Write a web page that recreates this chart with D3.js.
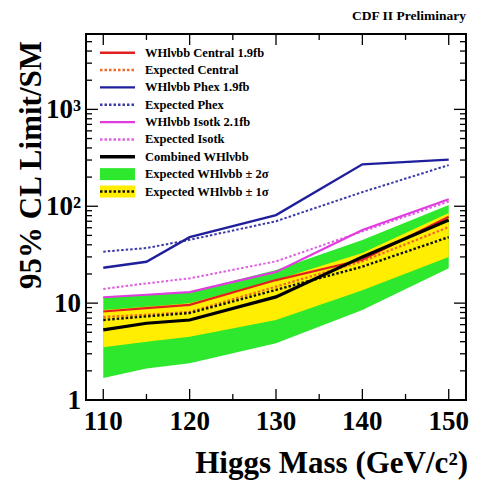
<!DOCTYPE html>
<html>
<head>
<meta charset="utf-8">
<script src="https://cdn.jsdelivr.net/npm/d3@7"></script>
<style>
  body { margin: 0; background: #fff; }
  svg { font-family: "Liberation Serif", "DejaVu Serif", serif; font-weight: bold; }
</style>
</head>
<body>
<div id="chart"></div>
<script>
// Higgs mass points (GeV/c^2)
var masses = [110, 115, 120, 130, 140, 150];

// limits / SM
var centralObs = [8.2, 8.9, 9.6, 17.3, 28, 78];
var centralExp = [7.2, 7.6, 8.1, 14.8, 27, 61];
var phexObs = [23.2, 26.7, 48, 81, 271, 303];
var phexExp = [34, 37, 45, 70, 140, 266];
var isotkObs = [11.5, 12.2, 13, 21, 57, 118];
var isotkExp = [14, 16, 18, 27, 55, 112];
var combObs = [5.3, 6.2, 6.7, 11.6, 30, 72];
var combExp = [6.7, 7.3, 7.9, 13.7, 23.8, 48];
var band2Lo = [1.69, 2.12, 2.39, 3.85, 8.5, 22.9];
var band2Hi = [11.6, 12.1, 13.1, 22, 44.8, 103];
var band1Lo = [3.5, 4.0, 4.5, 6.7, 13.6, 30];
var band1Hi = [8.5, 9.2, 10, 17.3, 32.9, 85];

var xTicks = [110, 120, 130, 140, 150];
var yTicks = [1, 10, 100, 1000];
var yTickLabels = ["1", "10", "10²", "10³"];

var legendLabels = [
    "WHlνbb Central 1.9fb",
    "Expected Central",
    "WHlνbb Phex 1.9fb",
    "Expected Phex",
    "WHlνbb Isotk 2.1fb",
    "Expected Isotk",
    "Combined WHlνbb",
    "Expected WHlνbb ± 2σ",
    "Expected WHlνbb ± 1σ"
];

var W = 478, H = 480;
var L = 86, R = 466, T = 34, B = 400;

var svg = d3.select("#chart").append("svg").attr("width", W).attr("height", H);

var x = d3.scaleLinear().domain([108, 152]).range([L, R]);
var y = d3.scaleLog().domain([1, 6000]).range([B, T]);

// bands
var area = function (lo, hi) {
    return d3.area()
        .x(function (d, i) { return x(masses[i]); })
        .y0(function (d, i) { return y(lo[i]); })
        .y1(function (d, i) { return y(hi[i]); })(masses);
};
svg.append("path").attr("d", area(band2Lo, band2Hi)).attr("fill", "#2ee82e");
svg.append("path").attr("d", area(band1Lo, band1Hi)).attr("fill", "#ffee00");

var line = d3.line()
    .x(function (d, i) { return x(masses[i]); })
    .y(function (d) { return y(d); });

var series = [
    { v: centralExp, c: "#f06a2a", w: 2.2, dash: "2.5,2" },
    { v: combExp, c: "#111", w: 2.4, dash: "2.5,2" },
    { v: isotkExp, c: "#e060e0", w: 2, dash: "2.5,2" },
    { v: phexExp, c: "#3a3aa8", w: 2, dash: "2.5,2" },
    { v: centralObs, c: "#e02020", w: 2.2, dash: null },
    { v: isotkObs, c: "#e03ce0", w: 2.2, dash: null },
    { v: phexObs, c: "#1f1f9c", w: 2.4, dash: null },
    { v: combObs, c: "#000", w: 3.2, dash: null }
];
series.forEach(function (s) {
    svg.append("path")
        .attr("d", line(s.v))
        .attr("fill", "none")
        .attr("stroke", s.c)
        .attr("stroke-width", s.w)
        .attr("stroke-dasharray", s.dash);
});

// frame
svg.append("rect").attr("x", L).attr("y", T).attr("width", R - L).attr("height", B - T)
    .attr("fill", "none").attr("stroke", "#000").attr("stroke-width", 2);

// x ticks (inward, bottom and top)
var xAll = d3.range(110, 151, 5);
xAll.forEach(function (m) {
    var len = (m % 10 === 0) ? 11 : 6;
    svg.append("line").attr("x1", x(m)).attr("x2", x(m)).attr("y1", B).attr("y2", B - len)
        .attr("stroke", "#000").attr("stroke-width", 1.3);
    svg.append("line").attr("x1", x(m)).attr("x2", x(m)).attr("y1", T).attr("y2", T + len)
        .attr("stroke", "#000").attr("stroke-width", 1.3);
});
svg.selectAll("text.xt").data(xTicks).enter().append("text")
    .attr("class", "xt")
    .attr("x", function (d) { return x(d); })
    .attr("y", 430)
    .attr("text-anchor", "middle")
    .attr("font-size", 27)
    .text(function (d) { return d; });

// y ticks (inward, left and right)
var yMinor = [];
for (var e = 0; e < 4; e++) {
    for (var k = 1; k < 10; k++) {
        var v = k * Math.pow(10, e);
        if (v <= 6000) yMinor.push(v);
    }
}
yMinor.forEach(function (v) {
    var len = (yTicks.indexOf(v) >= 0) ? 12 : 6;
    svg.append("line").attr("x1", L).attr("x2", L + len).attr("y1", y(v)).attr("y2", y(v))
        .attr("stroke", "#000").attr("stroke-width", 1.3);
    svg.append("line").attr("x1", R).attr("x2", R - len).attr("y1", y(v)).attr("y2", y(v))
        .attr("stroke", "#000").attr("stroke-width", 1.3);
});
svg.selectAll("text.yt").data(yTicks).enter().append("text")
    .attr("class", "yt")
    .attr("x", 81)
    .attr("y", function (d) { return y(d) + 9; })
    .attr("text-anchor", "end")
    .attr("font-size", 27)
    .text(function (d, i) { return yTickLabels[i]; });

// axis titles
svg.append("text")
    .attr("transform", "translate(41,165) rotate(-90)")
    .attr("text-anchor", "middle")
    .attr("font-size", 31)
    .text("95% CL Limit/SM");
svg.append("text")
    .attr("x", 468).attr("y", 473)
    .attr("text-anchor", "end")
    .attr("font-size", 31)
    .text("Higgs Mass (GeV/c²)");
svg.append("text")
    .attr("x", 466).attr("y", 20)
    .attr("text-anchor", "end")
    .attr("font-size", 13.5)
    .text("CDF II Preliminary");

// legend
var legSt = [
    { c: "#e02020", dash: null, box: null },
    { c: "#f06a2a", dash: "2.5,2", box: null },
    { c: "#1f1f9c", dash: null, box: null },
    { c: "#3a3aa8", dash: "2.5,2", box: null },
    { c: "#e03ce0", dash: null, box: null },
    { c: "#e060e0", dash: "2.5,2", box: null },
    { c: "#000", dash: null, box: null, w: 3.5 },
    { c: null, dash: null, box: "#2ee82e" },
    { c: "#111", dash: "2.5,2", box: "#ffee00" }
];
var legY0 = 52.7, legDy = 17.35;
legSt.forEach(function (s, i) {
    var yy = legY0 + i * legDy;
    if (s.box) {
        svg.append("rect").attr("x", 100).attr("y", yy - 6).attr("width", 35).attr("height", 12)
            .attr("fill", s.box);
    }
    if (s.c) {
        svg.append("line").attr("x1", 100).attr("x2", 135).attr("y1", yy).attr("y2", yy)
            .attr("stroke", s.c).attr("stroke-width", s.w || 2.4)
            .attr("stroke-dasharray", s.dash);
    }
    svg.append("text").attr("x", 145).attr("y", yy + 4)
        .attr("font-size", 12.5)
        .text(legendLabels[i]);
});
</script>
</body>
</html>
